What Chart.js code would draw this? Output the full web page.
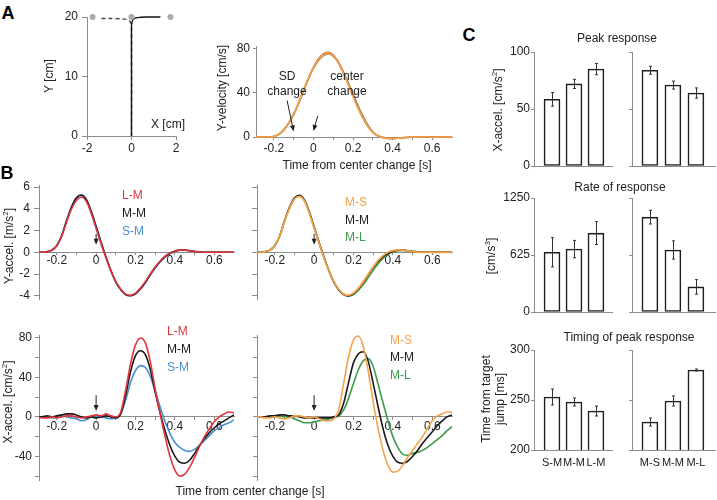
<!DOCTYPE html>
<html>
<head>
<meta charset="utf-8">
<script src="https://cdn.jsdelivr.net/npm/chart.js@4"></script>
<style>
  html, body { margin: 0; padding: 0; background: #fff; overflow: hidden; }
  #fig { position: relative; width: 717px; height: 500px; font-family: "Liberation Sans", Arial, Helvetica, sans-serif; color: #222; }
  canvas { position: absolute; }
  .t { position: absolute; white-space: nowrap; font-size: 12px; line-height: 1.15; transform: translate(-50%, -50%); text-align: center; }
  .r { transform: translate(-50%, -50%) rotate(-90deg); }
  .l { transform: translate(0, -50%); }
  .big { font-size: 18px; font-weight: bold; color: #000; }
  sup { font-size: 8px; line-height: 0; }
</style>
</head>
<body>
<div id="fig"></div>
<script>
// ── Data ─────────────────────────────────────────────────────────
const T = [-0.3,-0.275,-0.25,-0.225,-0.2,-0.175,-0.15,-0.125,-0.1,-0.075,-0.05,-0.025,0,0.025,0.05,0.075,0.1,0.125,0.15,0.175,0.2,0.225,0.25,0.275,0.3,0.325,0.35,0.375,0.4,0.425,0.45,0.475,0.5,0.525,0.55,0.575,0.6,0.625,0.65,0.675,0.7];
const X_TICKS  = [-0.2,-0.1,0,0.1,0.2,0.3,0.4,0.5,0.6];
const X_LABELS = [-0.2,0,0.2,0.4,0.6];

// A: trajectory
const TARGET_X = [-1.75, 0, 1.75];
const TARGET_Y = [20, 20, 20];
const TRAJ_X = [0, 0, 0, 0.02, 0.08, 0.2, 0.4, 0.7, 1.0, 1.3];
const TRAJ_Y = [0, 10, 18.3, 19.1, 19.6, 19.85, 19.95, 20, 20, 20];
const DASH_X = [-1.35, -0.9, -0.5, -0.25, -0.1, -0.03, 0, 0];
const DASH_Y = [19.75, 19.75, 19.7, 19.6, 19.35, 19.0, 18.3, 0];

// A: Y-velocity [cm/s]
const VEL_ORANGE = [0,0,0,0,0.5,2.5,6.5,12.5,20.5,30.5,42,53,62.5,69.5,74,75.5,73,67,58,47.5,36.5,26,17,9.5,4,1,-0.5,-1.2,-1.3,-1,-0.6,-0.3,0,0,0,0,0,0,0,0,0];
const VEL_RED    = [0,0,0,0,0.4,2.2,6,12,20,30,41.5,53,63,70.5,75,76.5,74,68,59,48,37,26.5,17,9.5,4,1,-0.5,-1.2,-1.3,-1,-0.6,-0.3,0,0,0,0,0,0,0,0,0];
const VEL_GREEN  = [0,0,0,0,0.5,2.5,6.5,12.5,20.5,30.5,42,52.5,62,69,73.5,75,73,67.5,59,49,38.5,28,18.5,10.5,4.5,1.2,-0.4,-1.2,-1.4,-1.1,-0.7,-0.3,0,0,0,0,0,0,0,0,0];

// B: Y-accel [m/s2]
const YACC_LM = [0,0,0.05,0.2,0.6,1.5,2.8,4.0,4.8,5.1,4.7,3.6,2.2,0.8,-0.5,-1.7,-2.7,-3.4,-3.85,-3.95,-3.75,-3.3,-2.7,-2.0,-1.35,-0.8,-0.35,-0.05,0.12,0.2,0.2,0.15,0.08,0.03,0,0,0,0,0,0,0];
const YACC_MM = [0,0,0.05,0.2,0.6,1.5,2.9,4.15,5.0,5.25,4.85,3.75,2.35,0.9,-0.45,-1.7,-2.75,-3.45,-3.9,-4.0,-3.8,-3.35,-2.75,-2.05,-1.4,-0.85,-0.4,-0.1,0.1,0.2,0.2,0.15,0.08,0.03,0,0,0,0,0,0,0];
const YACC_SM = [0,0,0.05,0.2,0.6,1.55,2.95,4.2,5.05,5.3,4.9,3.8,2.4,0.95,-0.4,-1.65,-2.7,-3.4,-3.9,-4.0,-3.85,-3.4,-2.8,-2.1,-1.45,-0.9,-0.45,-0.1,0.1,0.2,0.2,0.15,0.08,0.03,0,0,0,0,0,0,0];
const YACC_MS = [0,0,0.05,0.2,0.6,1.5,2.85,4.05,4.9,5.15,4.75,3.65,2.25,0.85,-0.5,-1.7,-2.7,-3.4,-3.85,-3.95,-3.75,-3.3,-2.7,-2.0,-1.35,-0.75,-0.3,0,0.15,0.22,0.2,0.14,0.07,0.02,0,0,0,0,0,0,0];
const YACC_ML = [0,0,0.05,0.2,0.6,1.5,2.9,4.1,4.95,5.2,4.8,3.7,2.3,0.9,-0.45,-1.65,-2.7,-3.45,-3.9,-4.05,-3.9,-3.5,-2.95,-2.3,-1.65,-1.05,-0.55,-0.2,0.05,0.15,0.18,0.15,0.1,0.05,0.01,0,0,0,0,0,0];

// B: X-accel [cm/s2]
const XACC_LM   = [0,-1,-1,0,-1,0,1,1,0,-1,0,1,2,1,3,1,0,5,27,54,73,80,75,56,28,3,-20,-40,-54,-60,-58,-51,-41,-30,-20,-12,-5,0,3,5,4];
const XACC_MM_L = [0,0,1,0,1,2,3,3,2,0,-1,0,-1,0,1,0,-1,3,22,46,62,67,63,48,25,4,-14,-29,-40,-46,-47,-44,-37,-29,-22,-16,-11,-7,-4,-1,2];
const XACC_SM   = [0,0,0,-1,0,1,0,-1,-2,-4,-3,0,1,0,-1,-2,-1,3,17,35,47,52,50,41,26,10,-5,-17,-26,-31,-34,-35,-33,-29,-24,-19,-14,-11,-8,-6,-3];
const XACC_MS   = [0,0,-1,-1,0,-1,-2,-1,1,1,0,-1,0,-2,-4,-4,-2,7,34,61,78,82,71,46,15,-12,-34,-49,-56,-55,-49,-41,-34,-27,-20,-12,-4,1,3,5,5];
const XACC_MM_R = [0,0,0,1,1,2,2,1,1,0,-1,-1,-1,-1,-1,-1,0,2,14,35,55,64,66,56,34,10,-12,-29,-40,-46,-47,-45,-40,-34,-27,-21,-15,-9,-4,0,2];
const XACC_ML   = [0,0,0,0,1,1,0,0,-2,-4,-6,-6,-5,-4,-3,-2,-1,1,7,19,34,48,57,59,51,33,14,-4,-20,-31,-38,-39,-37,-36,-34,-31,-27,-23,-19,-14,-10];

// C: bar summaries
const COND_L = ['S-M', 'M-M', 'L-M'];
const COND_R = ['M-S', 'M-M', 'M-L'];
const PEAK_L = [58.5, 72, 85],   PEAK_L_ERR = [6, 4, 5];
const PEAK_R = [84, 71, 64],     PEAK_R_ERR = [3.5, 3.5, 4.5];
const RATE_L = [655, 690, 865],  RATE_L_ERR = [160, 95, 125];
const RATE_R = [1040, 680, 275], RATE_R_ERR = [75, 100, 80];
const TIME_L = [253, 248, 239],  TIME_L_ERR = [8, 4, 5];
const TIME_R = [228, 249, 280],  TIME_R_ERR = [4, 5, 1];

// ── Style ────────────────────────────────────────────────────────
const AX = '#8c8c8c', INK = '#222';
const COL = { red: '#e2343c', blue: '#4b8fcf', orange: '#f6a24b', green: '#3f9b4c', black: '#1a1a1a' };
Chart.defaults.font.family = '"Liberation Sans", Arial, Helvetica, sans-serif';
Chart.defaults.font.size = 12;
Chart.defaults.color = INK;

const fig = document.getElementById('fig');

function label(html, x, y, cls, color) {
  const d = document.createElement('div');
  d.className = 't ' + (cls || '');
  d.innerHTML = html;
  d.style.left = x + 'px';
  d.style.top = y + 'px';
  if (color) d.style.color = color;
  fig.appendChild(d);
}

function mount(area, m, config) {
  const c = document.createElement('canvas');
  const w = area.r - area.l + m.l + m.r, h = area.b - area.t + m.t + m.b;
  c.width = w; c.height = h;
  Object.assign(c.style, { left: (area.l - m.l) + 'px', top: (area.t - m.t) + 'px', width: w + 'px', height: h + 'px' });
  fig.appendChild(c);
  return new Chart(c, config);
}

function axis(min, max, ticks, o) {
  o = o || {};
  const s = {
    type: 'linear', min, max, position: o.pos || (o.x ? 'bottom' : 'left'),
    offset: false, beginAtZero: false,
    border: { color: AX, width: 1 },
    grid: { drawOnChartArea: false, drawTicks: o.tl !== 0, tickLength: o.tl || 4, color: AX, offset: false },
    ticks: {
      display: o.labels !== false, padding: o.pad ?? 3, autoSkip: false, maxRotation: 0, minRotation: 0, color: INK,
      font: { size: o.fs || 12 },
      callback: v => o.fmt ? o.fmt(v) : (Array.isArray(o.labels) && !o.labels.includes(v) ? '' : String(v))
    },
    afterBuildTicks: sc => { sc.ticks = ticks.map(v => ({ value: v })); }
  };
  if (o.size != null) s.afterFit = sc => { if (sc.isHorizontal()) sc.height = o.size; else sc.width = o.size; };
  return s;
}

const curve = (vals, color, w) => ({
  data: T.map((t, i) => ({ x: t, y: vals[i] })),
  borderColor: color, borderWidth: w || 1.6, pointRadius: 0,
  cubicInterpolationMode: 'monotone', fill: false
});

// arrows given in data units: [x1, y1, x2, y2], head at (x2, y2)
const arrows = list => ({
  id: 'arrows',
  afterDatasetsDraw(chart) {
    const { ctx, scales: { x, y } } = chart;
    ctx.save();
    ctx.strokeStyle = ctx.fillStyle = '#222';
    ctx.lineWidth = 1;
    list.forEach(a => {
      const x1 = x.getPixelForValue(a[0]), y1 = y.getPixelForValue(a[1]);
      const x2 = x.getPixelForValue(a[2]), y2 = y.getPixelForValue(a[3]);
      const ang = Math.atan2(y2 - y1, x2 - x1), c = Math.cos(ang), s = Math.sin(ang);
      ctx.beginPath(); ctx.moveTo(x1, y1); ctx.lineTo(x2 - 4 * c, y2 - 4 * s); ctx.stroke();
      ctx.beginPath(); ctx.moveTo(x2, y2);
      ctx.lineTo(x2 - 6 * c + 2.5 * s, y2 - 6 * s - 2.5 * c);
      ctx.lineTo(x2 - 6 * c - 2.5 * s, y2 - 6 * s + 2.5 * c);
      ctx.closePath(); ctx.fill();
    });
    ctx.restore();
  }
});

const errBars = {
  id: 'errBars',
  afterDatasetsDraw(chart) {
    const { ctx } = chart, y = chart.scales.y;
    ctx.save();
    ctx.strokeStyle = '#333'; ctx.lineWidth = 1;
    chart.data.datasets.forEach((ds, di) => {
      if (!ds.err) return;
      chart.getDatasetMeta(di).data.forEach((bar, i) => {
        const v = ds.data[i].y, e = ds.err[i];
        const xc = Math.round(bar.x) + 0.5, top = y.getPixelForValue(v + e), bot = y.getPixelForValue(v - e);
        ctx.beginPath();
        ctx.moveTo(xc, top); ctx.lineTo(xc, bot);
        ctx.moveTo(xc - 1.5, top); ctx.lineTo(xc + 1.5, top);
        ctx.moveTo(xc - 1.5, bot); ctx.lineTo(xc + 1.5, bot);
        ctx.stroke();
      });
    });
    ctx.restore();
  }
};

function lineChart(area, m, xs, ys, sets, plugins) {
  const positioned = typeof xs.position === 'object';
  return mount(area, m, {
    type: 'line',
    data: { datasets: sets },
    options: {
      responsive: false, animation: false, events: [], devicePixelRatio: 1,
      layout: { padding: { left: 0, right: m.r, top: m.t, bottom: positioned ? m.b : 0 } },
      plugins: { legend: { display: false }, tooltip: { enabled: false } },
      scales: { x: xs, y: ys }
    },
    plugins: plugins || []
  });
}

function barChart(area, m, vals, errs, xmin, xmax, names, yTicks, yMin, yMax, showY) {
  return mount(area, m, {
    type: 'bar',
    data: { datasets: [{
      data: vals.map((v, i) => ({ x: i + 1, y: v })), err: errs,
      backgroundColor: '#fff', borderColor: '#1e1e1e', borderWidth: 1.6, borderSkipped: false, barThickness: 16
    }] },
    options: {
      responsive: false, animation: false, events: [], devicePixelRatio: 1,
      layout: { padding: { left: 0, right: m.r, top: m.t, bottom: 0 } },
      plugins: { legend: { display: false }, tooltip: { enabled: false } },
      scales: {
        x: axis(xmin, xmax, [1, 2, 3], { x: true, size: m.b, tl: 0, pad: 6, fs: 11, labels: names ? undefined : false, fmt: names ? (v => names[v - 1]) : undefined }),
        y: axis(yMin, yMax, yTicks, { size: m.l, tl: 3, pad: 1, labels: showY ? undefined : false })
      }
    },
    plugins: [errBars]
  });
}

// ── A: trajectory ────────────────────────────────────────────────
lineChart({ l: 87, r: 176, t: 17, b: 136 }, { l: 30, r: 10, t: 12, b: 20 },
  axis(-2, 2, [-2, 0, 2], { x: true, size: 20, tl: 4, pad: 1 }),
  axis(0, 20, [0, 10, 20], { size: 30, tl: 5, pad: 4 }),
  [
    { data: TARGET_X.map((x, i) => ({ x, y: TARGET_Y[i] })), showLine: false, pointRadius: 3, pointBackgroundColor: '#aaa', pointBorderWidth: 0, clip: false },
    { data: TRAJ_X.map((x, i) => ({ x, y: TRAJ_Y[i] })), borderColor: '#111', borderWidth: 1.4, pointRadius: 0, tension: 0.3, clip: false },
    { data: DASH_X.map((x, i) => ({ x, y: DASH_Y[i] })), borderColor: '#444', borderWidth: 1.4, borderDash: [4, 3], pointRadius: 0, tension: 0.3, clip: false }
  ]);

// ── A: Y-velocity ────────────────────────────────────────────────
const vclip = { left: 0, top: 6, right: 0, bottom: 6 };
lineChart({ l: 256, r: 452, t: 46, b: 137 }, { l: 36, r: 10, t: 12, b: 18 },
  axis(-0.29, 0.7, X_TICKS, { x: true, labels: X_LABELS, size: 18, tl: 3, pad: 1 }),
  axis(0, 82, [0, 40, 80], { size: 36, tl: 3, pad: 3 }),
  [
    Object.assign(curve(VEL_ORANGE, COL.orange, 1.6), { clip: vclip }),
    Object.assign(curve(VEL_RED, '#d9603c', 1.3), { clip: vclip }),
    Object.assign(curve(VEL_GREEN, '#7a8a50', 1.8), { clip: vclip })
  ],
  [arrows([[-0.133, 33, -0.1, 5], [0.022, 19, 0, 5.5]])]);

// ── B: Y-accel ───────────────────────────────────────────────────
const yAccTicks = [-4, -2, 0, 2, 4, 6];
lineChart({ l: 39, r: 234, t: 185, b: 299 }, { l: 36, r: 10, t: 12, b: 14 },
  axis(-0.29, 0.7, X_TICKS, { x: true, pos: { y: 0 }, labels: X_LABELS, tl: 2, pad: -1 }),
  axis(-4.3, 6.2, yAccTicks, { size: 36, tl: 5, pad: 4 }),
  [curve(YACC_LM, COL.red), curve(YACC_MM, COL.black), curve(YACC_SM, COL.blue)],
  [arrows([[0, 1.7, 0, 0.7]])]);

lineChart({ l: 257, r: 452, t: 185, b: 299 }, { l: 20, r: 10, t: 12, b: 14 },
  axis(-0.29, 0.7, X_TICKS, { x: true, pos: { y: 0 }, labels: X_LABELS, tl: 2, pad: -1 }),
  axis(-4.3, 6.2, yAccTicks, { size: 20, tl: 5, labels: false }),
  [curve(YACC_MS, COL.orange, 1.8), curve(YACC_MM, COL.black), curve(YACC_ML, COL.green)],
  [arrows([[0, 1.7, 0, 0.7]])]);

// ── B: X-accel ───────────────────────────────────────────────────
const xAccTicks = [-60, -40, -20, 0, 20, 40, 60, 80];
lineChart({ l: 39, r: 234, t: 335, b: 480 }, { l: 36, r: 10, t: 12, b: 14 },
  axis(-0.29, 0.7, X_TICKS, { x: true, pos: { y: 0 }, labels: X_LABELS, tl: 3, pad: 0 }),
  axis(-64, 83, xAccTicks, { size: 36, tl: 4, pad: 3, labels: [-40, 0, 40, 80] }),
  [curve(XACC_LM, COL.red), curve(XACC_MM_L, COL.black), curve(XACC_SM, COL.blue)],
  [arrows([[0, 22, 0, 6]])]);

lineChart({ l: 257, r: 452, t: 335, b: 480 }, { l: 20, r: 10, t: 12, b: 14 },
  axis(-0.29, 0.7, X_TICKS, { x: true, pos: { y: 0 }, labels: X_LABELS, tl: 3, pad: 0 }),
  axis(-64, 83, xAccTicks, { size: 20, tl: 4, labels: false }),
  [curve(XACC_MS, COL.orange), curve(XACC_MM_R, COL.black), curve(XACC_ML, COL.green)],
  [arrows([[0, 22, 0, 6]])]);

// ── C: bar summaries ─────────────────────────────────────────────
const mL = { l: 32, r: 4, t: 12, b: 12 }, mR = { l: 14, r: 2, t: 12, b: 12 };
barChart({ l: 534, r: 612, t: 52, b: 166 }, mL, PEAK_L, PEAK_L_ERR, 0.18, 3.73, null, [0, 50, 100], 0, 100, true);
barChart({ l: 632, r: 715, t: 52, b: 166 }, mR, PEAK_R, PEAK_R_ERR, 0.22, 3.83, null, [0, 50, 100], 0, 100, false);
barChart({ l: 534, r: 612, t: 198, b: 312 }, mL, RATE_L, RATE_L_ERR, 0.18, 3.73, null, [0, 625, 1250], 0, 1250, true);
barChart({ l: 632, r: 715, t: 198, b: 312 }, mR, RATE_R, RATE_R_ERR, 0.22, 3.83, null, [0, 625, 1250], 0, 1250, false);
barChart({ l: 534, r: 612, t: 350, b: 450 }, { l: 32, r: 4, t: 12, b: 22 }, TIME_L, TIME_L_ERR, 0.18, 3.73, COND_L, [200, 250, 300], 200, 300, true);
barChart({ l: 632, r: 715, t: 350, b: 450 }, { l: 14, r: 2, t: 12, b: 22 }, TIME_R, TIME_R_ERR, 0.22, 3.83, COND_R, [200, 250, 300], 200, 300, false);

// ── Text ─────────────────────────────────────────────────────────
label('A', 8, 13, 'big');
label('B', 7, 173, 'big');
label('C', 469, 35, 'big');

label('Y [cm]', 50, 76, 'r');
label('X [cm]', 168, 125);
label('Y-velocity [cm/s]', 223, 88, 'r');
label('SD', 287, 77); label('change', 287, 92);
label('center', 347, 77); label('change', 347, 92);
label('Time from center change [s]', 357, 166);

label('Y-accel. [m/s<sup>2</sup>]', 10, 246, 'r');
label(COND_L[2], 122, 196, 'l', COL.red);
label(COND_L[1], 122, 214, 'l', COL.black);
label(COND_L[0], 122, 232, 'l', COL.blue);
label(COND_R[0], 345, 203, 'l', COL.orange);
label(COND_R[1], 345, 221, 'l', COL.black);
label(COND_R[2], 345, 238, 'l', COL.green);

label('X-accel. [cm/s<sup>2</sup>]', 9, 402, 'r');
label(COND_L[2], 167, 332, 'l', COL.red);
label(COND_L[1], 167, 350, 'l', COL.black);
label(COND_L[0], 167, 368, 'l', COL.blue);
label(COND_R[0], 390, 341, 'l', COL.orange);
label(COND_R[1], 390, 358, 'l', COL.black);
label(COND_R[2], 390, 376, 'l', COL.green);
label('Time from center change [s]', 250, 492);

label('Peak response', 617, 39);
label('X-accel. [cm/s<sup>2</sup>]', 499, 110, 'r');
label('Rate of response', 620, 188);
label('[cm/s<sup>3</sup>]', 492, 256, 'r');
label('Timing of peak response', 629, 338);
label('Time from target<br>jump [ms]', 494, 399, 'r');
</script>
</body>
</html>
